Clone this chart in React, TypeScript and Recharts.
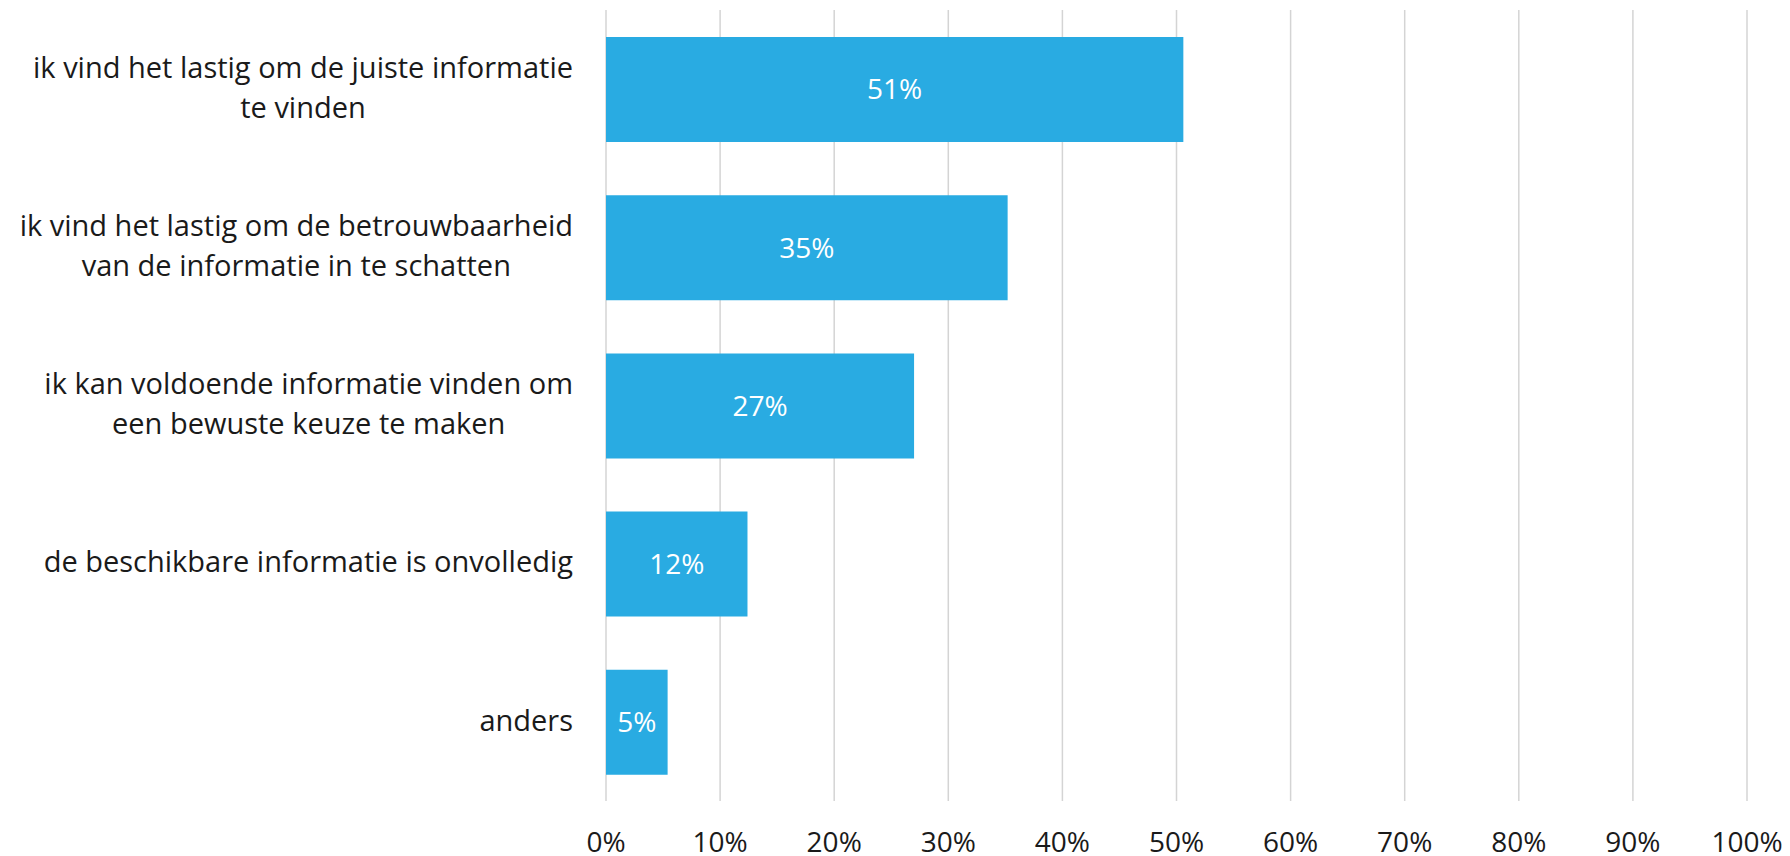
import React from "react"
import { BarChart, Bar, XAxis, YAxis, CartesianGrid, LabelList } from "recharts"

const categories = [
  "ik vind het lastig om de juiste informatie\nte vinden",
  "ik vind het lastig om de betrouwbaarheid\nvan de informatie in te schatten",
  "ik kan voldoende informatie vinden om\neen bewuste keuze te maken",
  "de beschikbare informatie is onvolledig",
  "anders",
]
const values = [50.6, 35.2, 27.0, 12.4, 5.4]
const xTicks = [0, 10, 20, 30, 40, 50, 60, 70, 80, 90, 100]

const data = categories.map((name, i) => ({ name, value: values[i] }))

const FONT = "'Open Sans', sans-serif"
const LABEL_SIZE = 29
const TICK_SIZE = 28

let ctx: CanvasRenderingContext2D | null = null
function textWidth(s: string) {
  if (!ctx) ctx = document.createElement("canvas").getContext("2d")
  if (!ctx) return s.length * LABEL_SIZE * 0.5
  ctx.font = `${LABEL_SIZE}px 'Open Sans'`
  return ctx.measureText(s).width
}

// multi-line category label: block right aligned, lines centred within it
function CategoryTick(props: any) {
  const { x, y, payload } = props
  const lines: string[] = String(payload.value).split("\n")
  const right = x - 25
  const blockWidth = Math.max(...lines.map(textWidth))
  const cx = right - blockWidth / 2
  const lineHeight = 40
  const startY = y - ((lines.length - 1) * lineHeight) / 2
  return (
    <text x={cx} y={startY} textAnchor="middle" fontFamily={FONT} fontSize={LABEL_SIZE} fill="#1a1a1a">
      {lines.map((l, i) => (
        <tspan key={i} x={cx} y={startY + i * lineHeight} dy="0.3em">
          {l}
        </tspan>
      ))}
    </text>
  )
}

function PercentTick(props: any) {
  const { x, payload } = props
  return (
    <text x={x} y={842} dy="0.35em" textAnchor="middle" fontFamily={FONT} fontSize={TICK_SIZE} fill="#1a1a1a">
      {`${payload.value}%`}
    </text>
  )
}

export default function App() {
  return (
    <div style={{ position: "absolute", left: 0, top: 0, background: "#fff" }}>
      <BarChart
        width={1790}
        height={856}
        data={data}
        layout="vertical"
        margin={{ top: 10, right: 43, bottom: 0, left: 0 }}
      >
        <CartesianGrid horizontal={false} stroke="#d4d4d4" strokeWidth={1.5} />
        <XAxis
          type="number"
          domain={[0, 100]}
          ticks={xTicks}
          axisLine={false}
          tickLine={false}
          height={55}
          tick={<PercentTick />}
          interval={0}
        />
        <YAxis
          type="category"
          dataKey="name"
          width={606}
          axisLine={false}
          tickLine={false}
          tick={<CategoryTick />}
          interval={0}
        />
        <Bar dataKey="value" fill="#29abe2" barSize={105} isAnimationActive={false}>
          <LabelList
            dataKey="value"
            position="center"
            fill="#ffffff"
            fontFamily={FONT}
            fontSize={TICK_SIZE}
            formatter={(v: any) => `${Math.round(Number(v))}%`}
          />
        </Bar>
      </BarChart>
    </div>
  )
}
